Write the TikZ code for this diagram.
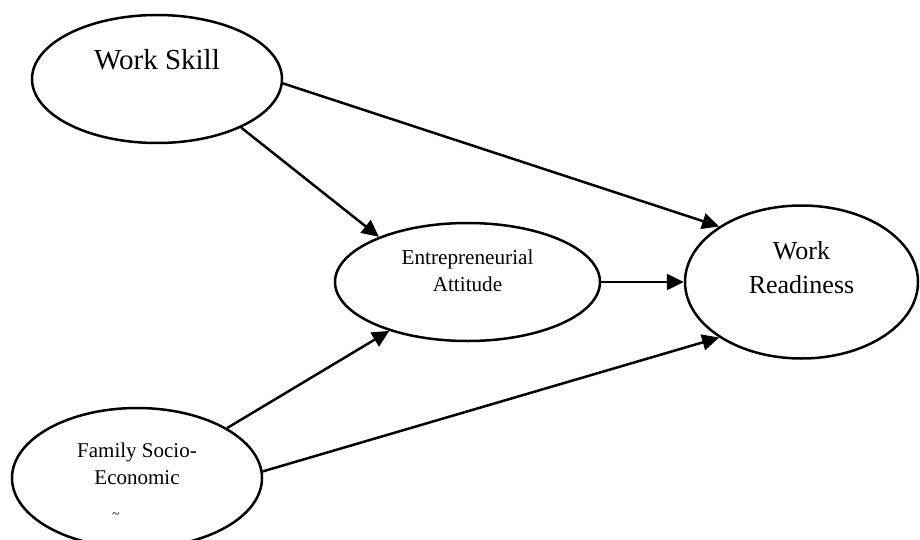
\documentclass[tikz,border=0pt]{standalone}
\usepackage{fontspec}
\setmainfont{Liberation Serif}
\usetikzlibrary{shapes.geometric, arrows.meta}

\begin{document}
\begin{tikzpicture}[x=0.5pt, y=-0.5pt, line width=1.25pt,
    >={Triangle[length=8.5pt, width=8pt]},
    var/.style={ellipse, draw, inner sep=0pt},
    lbl/.style={align=center, inner sep=0pt}]
        \useasboundingbox (0,0) rectangle (920,540);

        % Nœuds
        \node[var, minimum width=125pt, minimum height=64pt] (skill) at (157,79) {};
        \node[var, minimum width=132.5pt, minimum height=59pt] (attitude) at (467.5,282) {};
        \node[var, minimum width=116.5pt, minimum height=76.5pt] (ready) at (801.5,282) {};
        \node[var, minimum width=125pt, minimum height=70pt] (family) at (137,478) {};

        % Textes
        \node[lbl, font=\fontsize{14.5}{17}\selectfont] (skill_t) at (157,60) {Work Skill};
        \node[lbl, font=\fontsize{10.6}{13.5}\selectfont] (attitude_t) at (467.5,271) {Entrepreneurial\\Attitude};
        \node[lbl, font=\fontsize{13}{17}\selectfont] (ready_t) at (801.5,268) {Work\\Readiness};
        \node[lbl, font=\fontsize{10.5}{13.5}\selectfont] (family_t) at (137,464) {Family Socio-\\Economic};
        \node[lbl, font=\scriptsize] (family_m) at (116,516) {\textasciitilde};

        % Flèches
        \draw[->] (skill.-2) -- (ready.146);
        \draw[->] (skill.-30) -- (attitude.153);
        \draw[->] (attitude.east) -- (ready.west);
        \draw[->] (family.29) -- (attitude.212);
        \draw[->] (family.3) -- (ready.214);
\end{tikzpicture}
\end{document}
